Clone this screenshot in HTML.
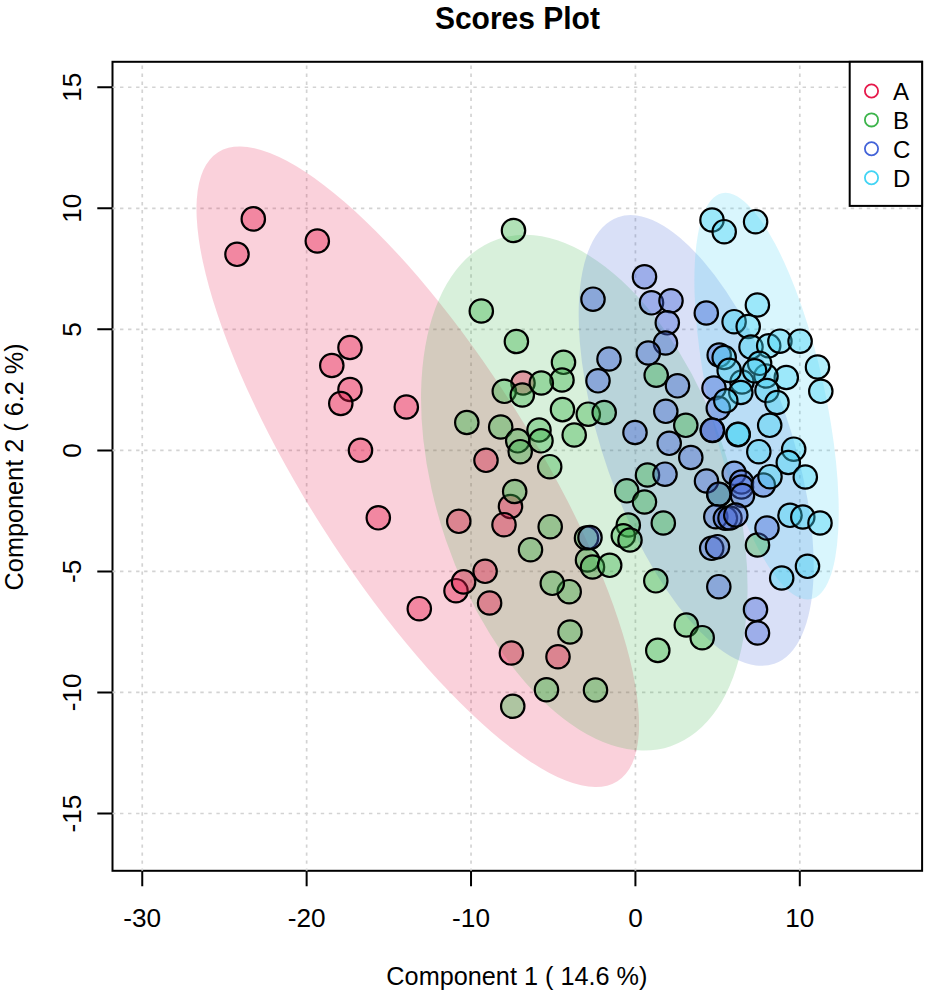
<!DOCTYPE html><html><head><meta charset="utf-8"><title>Scores Plot</title><style>html,body{margin:0;padding:0;background:#fff;overflow:hidden;}svg{display:block;}text{font-family:"Liberation Sans",sans-serif;}</style></head><body>
<svg width="926" height="996" viewBox="0 0 926 996">
<rect x="0" y="0" width="926" height="996" fill="#fff"/>
<rect x="112.5" y="61.8" width="809.6" height="809" fill="none" stroke="#000" stroke-width="2"/>
<clipPath id="pc"><rect x="111.5" y="60.8" width="811.6" height="811"/></clipPath>
<path clip-path="url(#pc)" d="M142.25 871.9V61.8M306.64 871.9V61.8M471.03 871.9V61.8M635.42 871.9V61.8M799.8 871.9V61.8M112 87.25H922.1M112 208.3H922.1M112 329.35H922.1M112 450.4H922.1M112 571.45H922.1M112 692.45H922.1M112 813.5H922.1" stroke="#d3d3d3" stroke-width="1.7" stroke-dasharray="3.4 4.63" fill="none"/>
<ellipse cx="417.78" cy="466.74" rx="113" ry="372.52" transform="rotate(147.59 417.78 466.74)" fill="#e6194B" fill-opacity="0.2"/>
<ellipse cx="584.3" cy="492.66" rx="146.29" ry="267.86" transform="rotate(161.16 584.3 492.66)" fill="#3cb44b" fill-opacity="0.2"/>
<ellipse cx="696.19" cy="440.45" rx="92.98" ry="236.59" transform="rotate(160.71 696.19 440.45)" fill="#4363d8" fill-opacity="0.2"/>
<ellipse cx="766.56" cy="396.16" rx="58.08" ry="207.76" transform="rotate(167.6 766.56 396.16)" fill="#42d4f4" fill-opacity="0.2"/>
<circle cx="253.3" cy="218.9" r="11.7" fill="#e6194B" fill-opacity="0.4" stroke="#000" stroke-width="2.2"/>
<circle cx="237" cy="254.3" r="11.7" fill="#e6194B" fill-opacity="0.4" stroke="#000" stroke-width="2.2"/>
<circle cx="317.3" cy="241" r="11.7" fill="#e6194B" fill-opacity="0.4" stroke="#000" stroke-width="2.2"/>
<circle cx="350" cy="347.5" r="11.7" fill="#e6194B" fill-opacity="0.4" stroke="#000" stroke-width="2.2"/>
<circle cx="331.8" cy="365.5" r="11.7" fill="#e6194B" fill-opacity="0.4" stroke="#000" stroke-width="2.2"/>
<circle cx="350" cy="389.5" r="11.7" fill="#e6194B" fill-opacity="0.4" stroke="#000" stroke-width="2.2"/>
<circle cx="340.8" cy="403.5" r="11.7" fill="#e6194B" fill-opacity="0.4" stroke="#000" stroke-width="2.2"/>
<circle cx="406.3" cy="407" r="11.7" fill="#e6194B" fill-opacity="0.4" stroke="#000" stroke-width="2.2"/>
<circle cx="360.5" cy="450.3" r="11.7" fill="#e6194B" fill-opacity="0.4" stroke="#000" stroke-width="2.2"/>
<circle cx="378.3" cy="517.8" r="11.7" fill="#e6194B" fill-opacity="0.4" stroke="#000" stroke-width="2.2"/>
<circle cx="419.3" cy="608.7" r="11.7" fill="#e6194B" fill-opacity="0.4" stroke="#000" stroke-width="2.2"/>
<circle cx="523" cy="383" r="11.7" fill="#e6194B" fill-opacity="0.4" stroke="#000" stroke-width="2.2"/>
<circle cx="486" cy="460.3" r="11.7" fill="#e6194B" fill-opacity="0.4" stroke="#000" stroke-width="2.2"/>
<circle cx="510.5" cy="506.5" r="11.7" fill="#e6194B" fill-opacity="0.4" stroke="#000" stroke-width="2.2"/>
<circle cx="504" cy="524.7" r="11.7" fill="#e6194B" fill-opacity="0.4" stroke="#000" stroke-width="2.2"/>
<circle cx="458.8" cy="521.3" r="11.7" fill="#e6194B" fill-opacity="0.4" stroke="#000" stroke-width="2.2"/>
<circle cx="485.1" cy="571.3" r="11.7" fill="#e6194B" fill-opacity="0.4" stroke="#000" stroke-width="2.2"/>
<circle cx="456" cy="590.7" r="11.7" fill="#e6194B" fill-opacity="0.4" stroke="#000" stroke-width="2.2"/>
<circle cx="463.6" cy="581.9" r="11.7" fill="#e6194B" fill-opacity="0.4" stroke="#000" stroke-width="2.2"/>
<circle cx="489.6" cy="603" r="11.7" fill="#e6194B" fill-opacity="0.4" stroke="#000" stroke-width="2.2"/>
<circle cx="511.4" cy="653" r="11.7" fill="#e6194B" fill-opacity="0.4" stroke="#000" stroke-width="2.2"/>
<circle cx="558" cy="656.75" r="11.7" fill="#e6194B" fill-opacity="0.4" stroke="#000" stroke-width="2.2"/>
<circle cx="513.5" cy="230.5" r="11.7" fill="#3cb44b" fill-opacity="0.4" stroke="#000" stroke-width="2.2"/>
<circle cx="481.3" cy="311" r="11.7" fill="#3cb44b" fill-opacity="0.4" stroke="#000" stroke-width="2.2"/>
<circle cx="516.4" cy="341.5" r="11.7" fill="#3cb44b" fill-opacity="0.4" stroke="#000" stroke-width="2.2"/>
<circle cx="563.5" cy="362.3" r="11.7" fill="#3cb44b" fill-opacity="0.4" stroke="#000" stroke-width="2.2"/>
<circle cx="562" cy="380" r="11.7" fill="#3cb44b" fill-opacity="0.4" stroke="#000" stroke-width="2.2"/>
<circle cx="504.3" cy="391.3" r="11.7" fill="#3cb44b" fill-opacity="0.4" stroke="#000" stroke-width="2.2"/>
<circle cx="522.3" cy="395" r="11.7" fill="#3cb44b" fill-opacity="0.4" stroke="#000" stroke-width="2.2"/>
<circle cx="541.3" cy="383" r="11.7" fill="#3cb44b" fill-opacity="0.4" stroke="#000" stroke-width="2.2"/>
<circle cx="562.5" cy="409.6" r="11.7" fill="#3cb44b" fill-opacity="0.4" stroke="#000" stroke-width="2.2"/>
<circle cx="574.2" cy="435" r="11.7" fill="#3cb44b" fill-opacity="0.4" stroke="#000" stroke-width="2.2"/>
<circle cx="466.8" cy="422.5" r="11.7" fill="#3cb44b" fill-opacity="0.4" stroke="#000" stroke-width="2.2"/>
<circle cx="500.7" cy="427" r="11.7" fill="#3cb44b" fill-opacity="0.4" stroke="#000" stroke-width="2.2"/>
<circle cx="539" cy="430" r="11.7" fill="#3cb44b" fill-opacity="0.4" stroke="#000" stroke-width="2.2"/>
<circle cx="517.7" cy="440.8" r="11.7" fill="#3cb44b" fill-opacity="0.4" stroke="#000" stroke-width="2.2"/>
<circle cx="541" cy="440.8" r="11.7" fill="#3cb44b" fill-opacity="0.4" stroke="#000" stroke-width="2.2"/>
<circle cx="520.2" cy="451.7" r="11.7" fill="#3cb44b" fill-opacity="0.4" stroke="#000" stroke-width="2.2"/>
<circle cx="549.7" cy="466.7" r="11.7" fill="#3cb44b" fill-opacity="0.4" stroke="#000" stroke-width="2.2"/>
<circle cx="514.7" cy="491.5" r="11.7" fill="#3cb44b" fill-opacity="0.4" stroke="#000" stroke-width="2.2"/>
<circle cx="588.3" cy="414.2" r="11.7" fill="#3cb44b" fill-opacity="0.4" stroke="#000" stroke-width="2.2"/>
<circle cx="604.2" cy="412.5" r="11.7" fill="#3cb44b" fill-opacity="0.4" stroke="#000" stroke-width="2.2"/>
<circle cx="685.8" cy="425.3" r="11.7" fill="#3cb44b" fill-opacity="0.4" stroke="#000" stroke-width="2.2"/>
<circle cx="647.5" cy="475" r="11.7" fill="#3cb44b" fill-opacity="0.4" stroke="#000" stroke-width="2.2"/>
<circle cx="626.7" cy="490.8" r="11.7" fill="#3cb44b" fill-opacity="0.4" stroke="#000" stroke-width="2.2"/>
<circle cx="644.5" cy="502" r="11.7" fill="#3cb44b" fill-opacity="0.4" stroke="#000" stroke-width="2.2"/>
<circle cx="663.3" cy="523" r="11.7" fill="#3cb44b" fill-opacity="0.4" stroke="#000" stroke-width="2.2"/>
<circle cx="628.3" cy="525" r="11.7" fill="#3cb44b" fill-opacity="0.4" stroke="#000" stroke-width="2.2"/>
<circle cx="623.3" cy="535.8" r="11.7" fill="#3cb44b" fill-opacity="0.4" stroke="#000" stroke-width="2.2"/>
<circle cx="630" cy="540" r="11.7" fill="#3cb44b" fill-opacity="0.4" stroke="#000" stroke-width="2.2"/>
<circle cx="586.5" cy="538" r="11.7" fill="#3cb44b" fill-opacity="0.4" stroke="#000" stroke-width="2.2"/>
<circle cx="587.5" cy="560" r="11.7" fill="#3cb44b" fill-opacity="0.4" stroke="#000" stroke-width="2.2"/>
<circle cx="592.5" cy="567" r="11.7" fill="#3cb44b" fill-opacity="0.4" stroke="#000" stroke-width="2.2"/>
<circle cx="609.7" cy="565.3" r="11.7" fill="#3cb44b" fill-opacity="0.4" stroke="#000" stroke-width="2.2"/>
<circle cx="655.8" cy="580.8" r="11.7" fill="#3cb44b" fill-opacity="0.4" stroke="#000" stroke-width="2.2"/>
<circle cx="569.2" cy="591.7" r="11.7" fill="#3cb44b" fill-opacity="0.4" stroke="#000" stroke-width="2.2"/>
<circle cx="570" cy="632" r="11.7" fill="#3cb44b" fill-opacity="0.4" stroke="#000" stroke-width="2.2"/>
<circle cx="686.3" cy="625" r="11.7" fill="#3cb44b" fill-opacity="0.4" stroke="#000" stroke-width="2.2"/>
<circle cx="702.2" cy="637.7" r="11.7" fill="#3cb44b" fill-opacity="0.4" stroke="#000" stroke-width="2.2"/>
<circle cx="657.8" cy="650.4" r="11.7" fill="#3cb44b" fill-opacity="0.4" stroke="#000" stroke-width="2.2"/>
<circle cx="550.2" cy="526.7" r="11.7" fill="#3cb44b" fill-opacity="0.4" stroke="#000" stroke-width="2.2"/>
<circle cx="530.5" cy="549.7" r="11.7" fill="#3cb44b" fill-opacity="0.4" stroke="#000" stroke-width="2.2"/>
<circle cx="552.3" cy="583.3" r="11.7" fill="#3cb44b" fill-opacity="0.4" stroke="#000" stroke-width="2.2"/>
<circle cx="546.5" cy="689.75" r="11.7" fill="#3cb44b" fill-opacity="0.4" stroke="#000" stroke-width="2.2"/>
<circle cx="595.5" cy="690" r="11.7" fill="#3cb44b" fill-opacity="0.4" stroke="#000" stroke-width="2.2"/>
<circle cx="512.75" cy="706.25" r="11.7" fill="#3cb44b" fill-opacity="0.4" stroke="#000" stroke-width="2.2"/>
<circle cx="757.5" cy="545" r="11.7" fill="#3cb44b" fill-opacity="0.4" stroke="#000" stroke-width="2.2"/>
<circle cx="719" cy="494.5" r="11.7" fill="#3cb44b" fill-opacity="0.4" stroke="#000" stroke-width="2.2"/>
<circle cx="593" cy="299.2" r="11.7" fill="#4363d8" fill-opacity="0.4" stroke="#000" stroke-width="2.2"/>
<circle cx="609" cy="359" r="11.7" fill="#4363d8" fill-opacity="0.4" stroke="#000" stroke-width="2.2"/>
<circle cx="644.5" cy="276.8" r="11.7" fill="#4363d8" fill-opacity="0.4" stroke="#000" stroke-width="2.2"/>
<circle cx="651.5" cy="302.8" r="11.7" fill="#4363d8" fill-opacity="0.4" stroke="#000" stroke-width="2.2"/>
<circle cx="671" cy="300.8" r="11.7" fill="#4363d8" fill-opacity="0.4" stroke="#000" stroke-width="2.2"/>
<circle cx="667.3" cy="322.8" r="11.7" fill="#4363d8" fill-opacity="0.4" stroke="#000" stroke-width="2.2"/>
<circle cx="665.5" cy="343" r="11.7" fill="#4363d8" fill-opacity="0.4" stroke="#000" stroke-width="2.2"/>
<circle cx="706.3" cy="313" r="11.7" fill="#4363d8" fill-opacity="0.4" stroke="#000" stroke-width="2.2"/>
<circle cx="648.3" cy="353" r="11.7" fill="#4363d8" fill-opacity="0.4" stroke="#000" stroke-width="2.2"/>
<circle cx="598" cy="380.8" r="11.7" fill="#4363d8" fill-opacity="0.4" stroke="#000" stroke-width="2.2"/>
<circle cx="677.5" cy="385.8" r="11.7" fill="#4363d8" fill-opacity="0.4" stroke="#000" stroke-width="2.2"/>
<circle cx="719.2" cy="355" r="11.7" fill="#4363d8" fill-opacity="0.4" stroke="#000" stroke-width="2.2"/>
<circle cx="714" cy="388" r="11.7" fill="#4363d8" fill-opacity="0.4" stroke="#000" stroke-width="2.2"/>
<circle cx="718.3" cy="408.3" r="11.7" fill="#4363d8" fill-opacity="0.4" stroke="#000" stroke-width="2.2"/>
<circle cx="712.5" cy="430.4" r="11.7" fill="#4363d8" fill-opacity="0.4" stroke="#000" stroke-width="2.2"/>
<circle cx="712.3" cy="430.2" r="11.7" fill="#4363d8" fill-opacity="0.4" stroke="#000" stroke-width="2.2"/>
<circle cx="635" cy="432.5" r="11.7" fill="#4363d8" fill-opacity="0.4" stroke="#000" stroke-width="2.2"/>
<circle cx="665.8" cy="411.3" r="11.7" fill="#4363d8" fill-opacity="0.4" stroke="#000" stroke-width="2.2"/>
<circle cx="669.2" cy="443.3" r="11.7" fill="#4363d8" fill-opacity="0.4" stroke="#000" stroke-width="2.2"/>
<circle cx="690.8" cy="457.5" r="11.7" fill="#4363d8" fill-opacity="0.4" stroke="#000" stroke-width="2.2"/>
<circle cx="665" cy="474.2" r="11.7" fill="#4363d8" fill-opacity="0.4" stroke="#000" stroke-width="2.2"/>
<circle cx="706.5" cy="481" r="11.7" fill="#4363d8" fill-opacity="0.4" stroke="#000" stroke-width="2.2"/>
<circle cx="734.2" cy="473.3" r="11.7" fill="#4363d8" fill-opacity="0.4" stroke="#000" stroke-width="2.2"/>
<circle cx="741.5" cy="482" r="11.7" fill="#4363d8" fill-opacity="0.4" stroke="#000" stroke-width="2.2"/>
<circle cx="741.5" cy="487" r="11.7" fill="#4363d8" fill-opacity="0.4" stroke="#000" stroke-width="2.2"/>
<circle cx="742.5" cy="495.5" r="11.7" fill="#4363d8" fill-opacity="0.4" stroke="#000" stroke-width="2.2"/>
<circle cx="763.3" cy="485" r="11.7" fill="#4363d8" fill-opacity="0.4" stroke="#000" stroke-width="2.2"/>
<circle cx="718.8" cy="494.2" r="11.7" fill="#4363d8" fill-opacity="0.4" stroke="#000" stroke-width="2.2"/>
<circle cx="715.8" cy="516.7" r="11.7" fill="#4363d8" fill-opacity="0.4" stroke="#000" stroke-width="2.2"/>
<circle cx="725.4" cy="518.3" r="11.7" fill="#4363d8" fill-opacity="0.4" stroke="#000" stroke-width="2.2"/>
<circle cx="730" cy="518" r="11.7" fill="#4363d8" fill-opacity="0.4" stroke="#000" stroke-width="2.2"/>
<circle cx="735.8" cy="515" r="11.7" fill="#4363d8" fill-opacity="0.4" stroke="#000" stroke-width="2.2"/>
<circle cx="767" cy="528" r="11.7" fill="#4363d8" fill-opacity="0.4" stroke="#000" stroke-width="2.2"/>
<circle cx="711.7" cy="548.3" r="11.7" fill="#4363d8" fill-opacity="0.4" stroke="#000" stroke-width="2.2"/>
<circle cx="717.5" cy="546.7" r="11.7" fill="#4363d8" fill-opacity="0.4" stroke="#000" stroke-width="2.2"/>
<circle cx="718.8" cy="586.7" r="11.7" fill="#4363d8" fill-opacity="0.4" stroke="#000" stroke-width="2.2"/>
<circle cx="755.5" cy="609.5" r="11.7" fill="#4363d8" fill-opacity="0.4" stroke="#000" stroke-width="2.2"/>
<circle cx="757.5" cy="633" r="11.7" fill="#4363d8" fill-opacity="0.4" stroke="#000" stroke-width="2.2"/>
<circle cx="590" cy="537.5" r="11.7" fill="#4363d8" fill-opacity="0.4" stroke="#000" stroke-width="2.2"/>
<circle cx="712" cy="220" r="11.7" fill="#42d4f4" fill-opacity="0.4" stroke="#000" stroke-width="2.2"/>
<circle cx="724.2" cy="231.7" r="11.7" fill="#42d4f4" fill-opacity="0.4" stroke="#000" stroke-width="2.2"/>
<circle cx="755.6" cy="221.7" r="11.7" fill="#42d4f4" fill-opacity="0.4" stroke="#000" stroke-width="2.2"/>
<circle cx="757.4" cy="305" r="11.7" fill="#42d4f4" fill-opacity="0.4" stroke="#000" stroke-width="2.2"/>
<circle cx="734.1" cy="321.7" r="11.7" fill="#42d4f4" fill-opacity="0.4" stroke="#000" stroke-width="2.2"/>
<circle cx="748.2" cy="326.5" r="11.7" fill="#42d4f4" fill-opacity="0.4" stroke="#000" stroke-width="2.2"/>
<circle cx="751" cy="347" r="11.7" fill="#42d4f4" fill-opacity="0.4" stroke="#000" stroke-width="2.2"/>
<circle cx="768.7" cy="345.8" r="11.7" fill="#42d4f4" fill-opacity="0.4" stroke="#000" stroke-width="2.2"/>
<circle cx="779.9" cy="341.2" r="11.7" fill="#42d4f4" fill-opacity="0.4" stroke="#000" stroke-width="2.2"/>
<circle cx="800.1" cy="341.2" r="11.7" fill="#42d4f4" fill-opacity="0.4" stroke="#000" stroke-width="2.2"/>
<circle cx="817.5" cy="367" r="11.7" fill="#42d4f4" fill-opacity="0.4" stroke="#000" stroke-width="2.2"/>
<circle cx="820.8" cy="391.3" r="11.7" fill="#42d4f4" fill-opacity="0.4" stroke="#000" stroke-width="2.2"/>
<circle cx="786.3" cy="377.5" r="11.7" fill="#42d4f4" fill-opacity="0.4" stroke="#000" stroke-width="2.2"/>
<circle cx="742" cy="382" r="11.7" fill="#42d4f4" fill-opacity="0.4" stroke="#000" stroke-width="2.2"/>
<circle cx="766" cy="376" r="11.7" fill="#42d4f4" fill-opacity="0.4" stroke="#000" stroke-width="2.2"/>
<circle cx="724.2" cy="357.5" r="11.7" fill="#42d4f4" fill-opacity="0.4" stroke="#000" stroke-width="2.2"/>
<circle cx="729.2" cy="370.4" r="11.7" fill="#42d4f4" fill-opacity="0.4" stroke="#000" stroke-width="2.2"/>
<circle cx="759.6" cy="363.3" r="11.7" fill="#42d4f4" fill-opacity="0.4" stroke="#000" stroke-width="2.2"/>
<circle cx="754.6" cy="370.8" r="11.7" fill="#42d4f4" fill-opacity="0.4" stroke="#000" stroke-width="2.2"/>
<circle cx="740.8" cy="392.5" r="11.7" fill="#42d4f4" fill-opacity="0.4" stroke="#000" stroke-width="2.2"/>
<circle cx="767" cy="390.5" r="11.7" fill="#42d4f4" fill-opacity="0.4" stroke="#000" stroke-width="2.2"/>
<circle cx="777" cy="402.5" r="11.7" fill="#42d4f4" fill-opacity="0.4" stroke="#000" stroke-width="2.2"/>
<circle cx="725.8" cy="400.8" r="11.7" fill="#42d4f4" fill-opacity="0.4" stroke="#000" stroke-width="2.2"/>
<circle cx="769.7" cy="425.3" r="11.7" fill="#42d4f4" fill-opacity="0.4" stroke="#000" stroke-width="2.2"/>
<circle cx="737.9" cy="434.6" r="11.7" fill="#42d4f4" fill-opacity="0.4" stroke="#000" stroke-width="2.2"/>
<circle cx="738.2" cy="434.3" r="11.7" fill="#42d4f4" fill-opacity="0.4" stroke="#000" stroke-width="2.2"/>
<circle cx="758.8" cy="451.7" r="11.7" fill="#42d4f4" fill-opacity="0.4" stroke="#000" stroke-width="2.2"/>
<circle cx="793.7" cy="449.2" r="11.7" fill="#42d4f4" fill-opacity="0.4" stroke="#000" stroke-width="2.2"/>
<circle cx="788.3" cy="462.5" r="11.7" fill="#42d4f4" fill-opacity="0.4" stroke="#000" stroke-width="2.2"/>
<circle cx="805.3" cy="477" r="11.7" fill="#42d4f4" fill-opacity="0.4" stroke="#000" stroke-width="2.2"/>
<circle cx="770" cy="476.7" r="11.7" fill="#42d4f4" fill-opacity="0.4" stroke="#000" stroke-width="2.2"/>
<circle cx="790" cy="515.3" r="11.7" fill="#42d4f4" fill-opacity="0.4" stroke="#000" stroke-width="2.2"/>
<circle cx="802.8" cy="517" r="11.7" fill="#42d4f4" fill-opacity="0.4" stroke="#000" stroke-width="2.2"/>
<circle cx="820" cy="523" r="11.7" fill="#42d4f4" fill-opacity="0.4" stroke="#000" stroke-width="2.2"/>
<circle cx="807.5" cy="566.3" r="11.7" fill="#42d4f4" fill-opacity="0.4" stroke="#000" stroke-width="2.2"/>
<circle cx="781.7" cy="578" r="11.7" fill="#42d4f4" fill-opacity="0.4" stroke="#000" stroke-width="2.2"/>
<circle cx="656.2" cy="375.2" r="11.7" fill="#3cb44b" fill-opacity="0.4" stroke="#000" stroke-width="2.2"/>
<path d="M142.25 870.8V886.3M306.64 870.8V886.3M471.03 870.8V886.3M635.42 870.8V886.3M799.8 870.8V886.3M112.5 87.25H97.3M112.5 208.3H97.3M112.5 329.35H97.3M112.5 450.4H97.3M112.5 571.45H97.3M112.5 692.45H97.3M112.5 813.5H97.3" stroke="#000" stroke-width="2" fill="none"/>
<text x="142.25" y="926.7" font-size="26.2" text-anchor="middle">-30</text>
<text x="306.64" y="926.7" font-size="26.2" text-anchor="middle">-20</text>
<text x="471.03" y="926.7" font-size="26.2" text-anchor="middle">-10</text>
<text x="635.42" y="926.7" font-size="26.2" text-anchor="middle">0</text>
<text x="799.8" y="926.7" font-size="26.2" text-anchor="middle">10</text>
<text transform="translate(80.8 87.25) rotate(-90)" font-size="26.2" text-anchor="middle">15</text>
<text transform="translate(80.8 208.3) rotate(-90)" font-size="26.2" text-anchor="middle">10</text>
<text transform="translate(80.8 329.35) rotate(-90)" font-size="26.2" text-anchor="middle">5</text>
<text transform="translate(80.8 450.4) rotate(-90)" font-size="26.2" text-anchor="middle">0</text>
<text transform="translate(80.8 571.45) rotate(-90)" font-size="26.2" text-anchor="middle">-5</text>
<text transform="translate(80.8 692.45) rotate(-90)" font-size="26.2" text-anchor="middle">-10</text>
<text transform="translate(80.8 813.5) rotate(-90)" font-size="26.2" text-anchor="middle">-15</text>
<text x="516.9" y="984.6" font-size="25.25" text-anchor="middle">Component 1 ( 14.6 %)</text>
<text transform="translate(23.3 466.9) rotate(-90)" font-size="25.25" text-anchor="middle">Component 2 ( 6.2 %)</text>
<text transform="translate(517.4 28.6) scale(1 1.04)" font-size="30" font-weight="bold" text-anchor="middle">Scores Plot</text>
<rect x="849.7" y="61.8" width="72.4" height="144.1" fill="#fff" stroke="#000" stroke-width="2"/>
<circle cx="871.5" cy="91" r="6.6" fill="none" stroke="#e6194B" stroke-width="1.8"/>
<text x="893" y="100" font-size="24">A</text>
<circle cx="871.5" cy="119.9" r="6.6" fill="none" stroke="#3cb44b" stroke-width="1.8"/>
<text x="893" y="128.9" font-size="24">B</text>
<circle cx="871.5" cy="148.8" r="6.6" fill="none" stroke="#4363d8" stroke-width="1.8"/>
<text x="893" y="157.8" font-size="24">C</text>
<circle cx="871.5" cy="177.7" r="6.6" fill="none" stroke="#42d4f4" stroke-width="1.8"/>
<text x="893" y="186.7" font-size="24">D</text>
</svg></body></html>
